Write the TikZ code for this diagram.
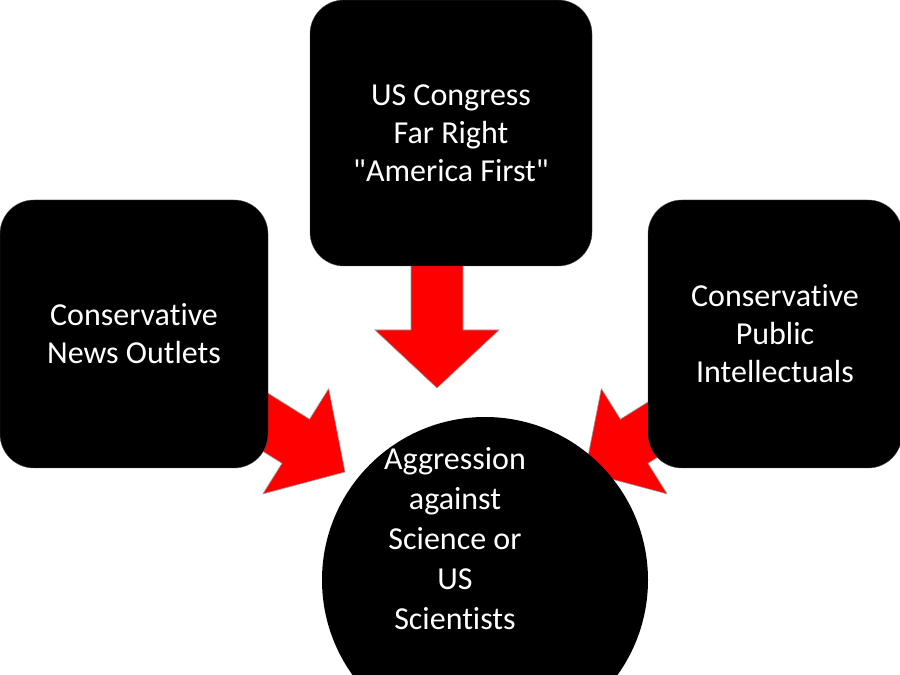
\documentclass[tikz,border=0pt]{standalone}
\usepackage{fontspec}
\setmainfont[Ligatures={NoCommon}]{Carlito}
\begin{document}
\begin{tikzpicture}[x=1pt,y=1pt,
  box/.style={fill=black,draw=black!70,rounded corners=34pt,text=white,align=center,font=\fontsize{32}{38}\selectfont,inner sep=0pt},
  circ/.style={circle,fill=black,text=white,align=center,inner sep=0pt},
  arr/.style={fill=red,draw=black!40,line width=0.6pt,line join=miter}]
\useasboundingbox (0,0) rectangle (900,675);
\clip (0,0) rectangle (900,675);
\newcommand{\fatarrow}[4]{% x,y of tip, angle, length
  \begin{scope}[shift={(#1,#2)},rotate=#3]
   \draw[arr] (0,0) -- (-58,-62) -- (-58,-26) -- (-#4,-26) -- (-#4,26) -- (-58,26) -- (-58,62) -- cycle;
  \end{scope}}
\fatarrow{437}{287}{-90}{140}
\fatarrow{345}{203}{-32}{150}
\fatarrow{585}{203}{-148}{150}
\node[box,minimum width=268pt,minimum height=268pt] (L) at (134,341) {Conservative\\News Outlets};
\node[box,minimum width=282pt,minimum height=266pt] (T) at (451,542) {US Congress\\Far Right\\\textquotedbl America First\textquotedbl};
\node[box,minimum width=254pt,minimum height=268pt] (R) at (775,341) {Conservative\\Public\\Intellectuals};
\node[circ,minimum size=326pt] (C) at (485,95) {};
\node[text=white,align=center,font=\fontsize{32}{40}\selectfont] (Ct) at (455,136) {Aggression\\against\\Science or\\US\\Scientists};
\end{tikzpicture}
\end{document}
